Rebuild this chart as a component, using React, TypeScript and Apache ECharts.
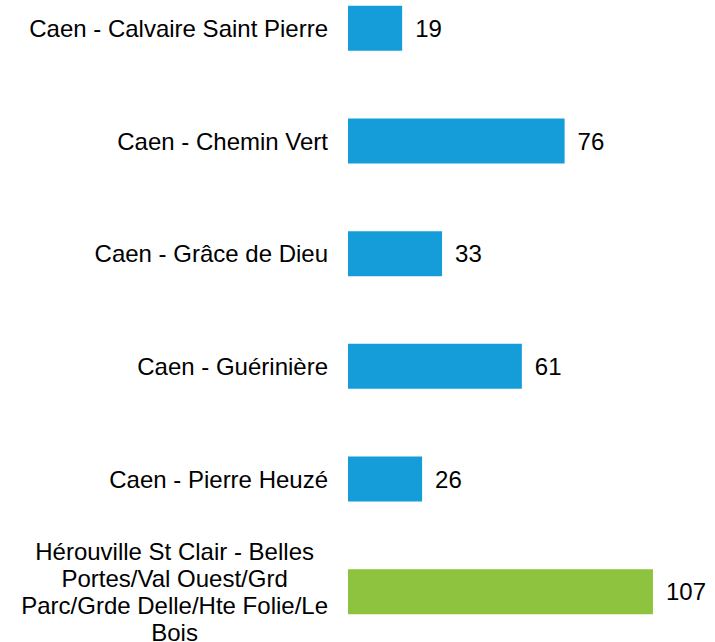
import React, { useEffect, useRef } from "react";
import * as echarts from "echarts";

const categories = [
  "Caen - Calvaire Saint Pierre",
  "Caen - Chemin Vert",
  "Caen - Grâce de Dieu",
  "Caen - Guérinière",
  "Caen - Pierre Heuzé",
  "Hérouville St Clair - Belles Portes/Val Ouest/Grd Parc/Grde Delle/Hte Folie/Le Bois",
];
const values = [19, 76, 33, 61, 26, 107];
const barColors = ["#149dd9", "#149dd9", "#149dd9", "#149dd9", "#149dd9", "#8dc33f"];

const FONT = "'Liberation Sans', Arial, sans-serif";
const LABEL_SIZE = 24;
const WRAP_WIDTH = 320;

function wrapLabel(text: string): string {
  const canvas = document.createElement("canvas");
  const ctx = canvas.getContext("2d");
  const words = text.split(" ");
  const lines: string[] = [];
  let cur = "";
  if (ctx) ctx.font = `${LABEL_SIZE}px ${FONT}`;
  for (const w of words) {
    const test = cur ? cur + " " + w : w;
    const width = ctx ? ctx.measureText(test).width : test.length * 11;
    if (cur && width > WRAP_WIDTH) {
      lines.push(cur);
      cur = w;
    } else {
      cur = test;
    }
  }
  if (cur) lines.push(cur);
  return lines.map((l) => `{c|${l}}`).join("\n");
}

export default function App() {
  const ref = useRef<HTMLDivElement>(null);
  useEffect(() => {
    if (!ref.current) return;
    const chart = echarts.init(ref.current, null, { renderer: "svg" });
    chart.setOption({
      animation: false,
      backgroundColor: "#ffffff",
      grid: { left: 348, right: 25, top: 0, bottom: 0, containLabel: false },
      xAxis: {
        type: "value",
        min: 0,
        max: 120,
        show: false,
      },
      yAxis: {
        type: "category",
        inverse: true,
        data: categories,
        axisLine: { show: false },
        axisTick: { show: false },
        splitLine: { show: false },
        axisLabel: {
          margin: 20,
          fontSize: LABEL_SIZE,
          fontFamily: FONT,
          color: "#000000",
          lineHeight: 27,
          formatter: (v: string) => wrapLabel(v),
          rich: {
            c: {
              fontSize: LABEL_SIZE,
              fontFamily: FONT,
              color: "#000000",
              lineHeight: 27,
              align: "center",
            },
          },
        },
      },
      series: [
        {
          type: "bar",
          barWidth: 45,
          data: values.map((v, i) => ({ value: v, itemStyle: { color: barColors[i] } })),
          label: {
            show: true,
            position: "right",
            distance: 13,
            fontSize: LABEL_SIZE,
            fontFamily: FONT,
            color: "#000000",
          },
        },
      ],
    });
    return () => chart.dispose();
  }, []);
  return (
    <div style={{ position: "fixed", left: 0, top: 0, width: 715, height: 642, overflow: "hidden", background: "#fff" }}>
      <div
        ref={ref}
        style={{ position: "absolute", left: 0, top: -28, width: 715, height: 676 }}
      />
    </div>
  );
}
